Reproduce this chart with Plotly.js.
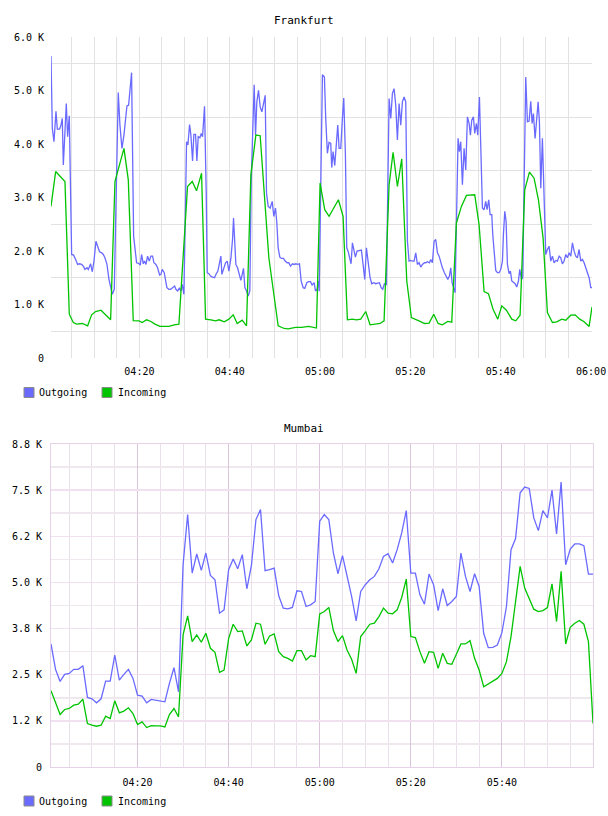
<!DOCTYPE html>
<html>
<head>
<meta charset="utf-8">
<script src="https://cdn.plot.ly/plotly-3.0.1.min.js"></script>
<style>html,body{margin:0;padding:0;background:#fff;}#chart{width:608px;height:816px;}</style>
</head>
<body>
<div id="chart"></div>
<script>
// ---- Frankfurt (minutes after 04:00, bytes) ----
const fraOutT = [0.43,0.72,1.09,1.53,1.83,2.34,2.64,2.93,3.16,3.52,3.82,4.11,4.48,5.00,5.44,5.88,6.33,6.70,7.21,7.58,7.95,8.39,8.69,9.20,9.57,9.94,10.38,10.75,11.19,11.64,12.01,12.37,12.82,13.26,13.55,14.00,14.44,14.88,15.32,15.69,16.14,16.58,16.87,17.24,17.61,17.98,18.27,18.72,19.01,19.38,19.82,20.19,20.49,20.86,21.15,21.45,21.81,22.18,22.55,22.92,23.22,23.66,24.03,24.47,24.76,25.06,25.50,25.80,26.09,26.53,26.90,27.35,27.79,28.08,28.45,28.82,29.19,29.48,29.85,30.22,30.44,30.74,31.11,31.40,31.77,32.06,32.43,32.73,33.02,33.39,33.69,33.98,34.42,34.79,35.01,35.38,35.75,36.19,36.64,37.01,37.37,37.74,38.04,38.26,38.63,39.07,39.44,39.81,40.25,40.62,40.84,41.14,41.36,41.73,42.09,42.46,42.76,43.05,43.35,43.72,44.09,44.45,44.75,45.41,45.71,46.00,46.37,46.74,47.11,47.48,47.85,48.14,48.51,48.95,49.40,49.76,50.13,50.43,50.72,51.09,51.46,51.90,52.27,52.71,53.08,53.45,53.89,54.26,54.63,55.00,55.44,55.81,56.25,56.62,57.06,57.43,57.88,58.24,58.69,58.98,59.35,59.65,59.80,60.52,60.96,61.25,61.62,61.99,62.36,62.58,62.88,63.25,63.54,63.91,64.21,64.58,64.94,65.24,65.61,65.90,66.20,66.49,66.86,67.16,67.53,67.82,68.19,68.63,69.15,69.52,69.89,70.26,70.63,71.07,71.44,71.88,72.32,72.77,73.14,73.51,73.87,74.24,74.69,75.28,75.65,76.01,76.38,76.75,77.12,77.49,77.86,78.23,78.60,78.97,79.34,79.70,80.07,80.44,80.81,81.18,81.55,81.92,82.29,82.66,83.10,83.39,83.76,84.21,84.50,84.87,85.24,85.61,85.98,86.35,86.72,87.08,87.53,87.90,88.27,88.63,88.93,89.23,89.52,89.89,90.55,90.85,91.14,91.51,91.88,92.25,92.62,92.99,93.28,93.58,93.95,94.24,94.61,94.91,95.28,95.57,95.94,96.31,96.68,96.97,97.34,97.64,98.01,98.23,98.60,98.89,99.26,99.63,100.00,100.37,100.59,100.89,101.18,101.48,101.84,102.14,102.44,102.80,103.17,103.54,103.91,104.21,104.58,104.87,105.53,105.90,106.27,106.64,106.94,107.23,107.60,107.97,108.27,108.56,108.86,109.22,109.52,109.96,110.33,110.70,111.07,111.44,111.81,112.18,112.55,112.92,113.28,113.65,114.02,114.39,114.76,115.13,115.50,115.87,116.24,116.61,116.97,117.34,117.71,118.08,118.45,118.82,119.19,119.56,119.93,120.20];
const fraOut = [5643,4291,4043,4613,4279,4279,4353,4477,3609,4415,4756,4136,4527,1935,1923,1842,1749,1761,1749,1718,1656,1687,1656,1761,1612,1811,2183,2090,1985,1966,1935,1873,1749,1470,1377,1191,1284,2927,4961,4353,3919,4167,4477,4713,4725,5159,5333,2276,2059,1780,1768,1737,1935,1761,1811,1749,1904,1811,1904,1904,1780,1749,1687,1551,1563,1656,1594,1439,1315,1284,1284,1315,1346,1284,1253,1303,1253,1377,1191,2927,4043,3981,4365,4167,3683,4179,4179,3683,4136,4117,4198,4136,4706,3113,1594,1575,1532,1513,1501,1575,1625,1780,1904,1563,1687,1780,1811,1625,1861,2214,2617,2183,1749,1687,1551,1451,1563,1675,1315,1253,1160,1253,3299,5109,4167,4787,5004,4694,4601,4787,4911,3082,2834,2803,2927,2648,2803,2524,2059,1885,1861,1861,1811,1780,1780,1718,1761,1749,1761,1749,1761,1439,1315,1303,1408,1427,1427,1365,1408,1253,1284,1439,1250,5295,5252,4477,3826,4031,4012,3559,3857,3597,3919,4353,3919,3919,4477,4861,3795,2059,1997,1904,1761,2152,1997,1885,1997,2009,2016,1749,1470,2059,1749,1501,1389,1408,1389,1408,1408,1315,1284,1389,1365,4849,4477,4942,5035,4725,4074,4756,4353,4787,4880,4787,2183,1811,1823,1811,1811,1966,1749,1780,1699,1749,1780,1780,1799,1780,1842,1780,2183,2214,1966,1904,1780,1687,1594,1532,1470,1532,1687,1408,1315,1222,4105,3857,4043,3237,3919,3516,4508,4384,4167,4446,4508,4198,4384,4167,4880,3857,2803,2772,2927,2772,2958,2679,2679,2307,1811,1637,1594,1594,1656,1811,2307,2741,2555,1749,1575,1625,1439,1408,1389,1327,1439,1656,1470,1500,5252,4415,4427,4799,4384,4570,4105,4477,4787,4415,3175,4105,3051,1935,2028,2090,1811,1904,1780,1823,1811,1904,1873,1761,1811,1935,1873,1966,1904,2152,1997,1904,1873,2028,1811,1842,1780,1687,1594,1501,1315,1315];
const fraInT = [0.43,1.46,3.52,4.48,5.37,6.11,7.36,8.54,9.42,10.31,11.49,12.74,13.63,14.59,16.58,17.54,18.64,19.90,20.63,21.59,22.55,23.44,24.54,26.53,27.71,28.75,30.66,31.70,32.65,33.76,34.65,35.83,36.86,37.67,38.78,39.81,40.77,41.65,42.76,43.72,44.68,45.78,46.74,48.66,50.72,52.05,52.94,54.56,55.88,57.51,58.69,59.20,60.00,61.03,61.99,64.06,65.09,66.05,67.16,68.04,69.00,70.11,71.07,72.32,73.28,74.17,75.28,76.16,77.12,78.08,79.19,80.22,81.18,82.14,83.10,84.13,85.17,86.13,87.08,88.27,89.15,90.18,91.29,92.40,94.24,95.20,96.31,97.27,98.30,99.34,100.22,101.25,102.44,103.32,104.28,105.31,106.35,107.38,108.34,109.37,110.33,111.44,112.40,113.51,114.39,115.50,116.46,117.49,118.45,119.56,120.20];
const fraIn = [2834,3485,3299,819,664,633,645,602,807,869,893,788,714,3299,3919,3330,700,695,664,714,683,633,590,590,621,633,3206,3299,3125,3454,726,714,695,714,677,726,807,645,707,602,3423,4167,4155,1873,602,552,546,571,571,590,571,560,3270,2772,2648,2958,2648,714,726,714,726,869,621,633,645,695,3237,3845,3206,3721,1439,757,726,683,645,652,819,645,621,683,670,2524,2834,3039,3051,2493,1241,1203,912,726,974,893,726,695,800,3144,3473,3361,2958,2245,850,664,677,726,707,800,807,726,677,590,955];

// ---- Mumbai (one sample per minute, starting 04:01) ----
const mumStartMin = 1;
const mumOut = [3333,2645,2319,2509,2536,2645,2645,2745,1884,1848,1739,1848,2328,2328,3034,2355,2509,2645,2400,1947,1920,1739,1830,1812,1784,1766,2265,2690,2038,5480,6839,5254,5770,5326,5797,5190,5072,4167,4257,5344,5634,5371,5752,4828,5453,6703,6975,5317,5344,5390,4638,4303,4284,4321,4774,4755,4348,4393,4484,6658,
6839,6703,5797,5236,5725,5163,4620,3958,4755,4937,5072,5163,5371,5707,5779,5525,5888,6341,6948,5254,5254,4665,4411,5226,4937,4239,4828,4375,4484,4620,5797,5163,4755,5236,4891,3623,3234,3243,3306,3641,4348,5888,6187,7428,7582,7545,6748,6404,6948,6748,7500,6313,7717,5480,5906,6042,6042,5997,5226,5226];
const mumIn = [2065,1721,1422,1558,1585,1676,1703,1839,1178,1132,1105,1132,1377,1313,1793,1467,1513,1603,1449,1150,1223,1069,1123,1114,1114,1087,1422,1585,1359,3578,4094,3397,3578,3379,3623,3216,3107,2563,2627,3478,3868,3668,3687,3279,3442,3895,3868,3324,3551,3605,3125,2989,2944,2871,3152,3152,2899,3016,2989,4149,
4212,4321,3696,3397,3560,3170,2917,2536,3533,3696,3868,3895,4076,4303,4167,4149,4257,4592,5091,3533,3505,3125,2808,3125,3107,2672,3080,2808,2781,3052,3333,3333,3424,2944,2627,2174,2246,2337,2400,2536,2853,3533,4438,5435,4846,4574,4275,4212,4239,4321,4964,3940,5299,3333,3786,3895,3967,3868,3397,1178];

// ---- tick labels ----
const fraXTickVals = [20,40,60,80,100,120];
const fraXTickText = ['04:20','04:40','05:00','05:20','05:40','06:00'];
const fraYTickVals = [0,1000,2000,3000,4000,5000,6000];
const fraYTickText = ['0','1.0 K','2.0 K','3.0 K','4.0 K','5.0 K','6.0 K'];
const mumXTickVals = [20,40,60,80,100];
const mumXTickText = ['04:20','04:40','05:00','05:20','05:40'];
const mumYTickVals = [0,1250,2500,3750,5000,6250,7500,8750];
const mumYTickText = ['0','1.2 K','2.5 K','3.8 K','5.0 K','6.2 K','7.5 K','8.8 K'];
const seriesNames = ['Outgoing','Incoming'];
const titles = ['Frankfurt','Mumbai'];

const mumT = mumOut.map((_, i) => mumStartMin + i);
const fiveMin = []; for (let m = 5; m < 120; m += 5) fiveMin.push(m);
const fraHalf = []; for (let v = 500; v < 6000; v += 1000) fraHalf.push(v);
const mumHalf = []; for (let v = 625; v < 8750; v += 1250) mumHalf.push(v);

const BLUE = '#6a6aff', GREEN = '#00c400';
const W = 608, H = 816;
const px = x => x / W, py = y => (H - y) / H;
const font = {family: 'DejaVu Sans Mono, monospace', size: 10, color: '#000'};

const traces = [
  {x: fraOutT, y: fraOut, xaxis: 'x', yaxis: 'y', mode: 'lines', line: {color: BLUE, width: 1.3}, name: seriesNames[0]},
  {x: fraInT, y: fraIn, xaxis: 'x', yaxis: 'y', mode: 'lines', line: {color: GREEN, width: 1.3}, name: seriesNames[1]},
  {x: mumT, y: mumOut, xaxis: 'x2', yaxis: 'y2', mode: 'lines', line: {color: BLUE, width: 1.3}, name: seriesNames[0]},
  {x: mumT, y: mumIn, xaxis: 'x2', yaxis: 'y2', mode: 'lines', line: {color: GREEN, width: 1.3}, name: seriesNames[1]}
];

const topGrid = '#e2e2e2';
const layout = {
  width: W, height: H,
  margin: {l: 0, r: 0, t: 0, b: 0},
  paper_bgcolor: '#fff', plot_bgcolor: '#fff',
  showlegend: false, hovermode: false,
  font: font,
  xaxis: {
    domain: [px(51), px(592)], range: [0.43, 120.2], anchor: 'y',
    tickmode: 'array', tickvals: fraXTickVals, ticktext: fraXTickText,
    showgrid: true, gridcolor: topGrid, gridwidth: 1, zeroline: false, showline: false, ticks: '',
    ticklabelstandoff: 6,
    minor: {tickmode: 'array', tickvals: fiveMin, showgrid: true, gridcolor: topGrid, gridwidth: 1, ticks: ''},
    tickfont: font, fixedrange: true
  },
  yaxis: {
    domain: [py(358), py(37)], range: [0, 6000], anchor: 'x',
    tickmode: 'array', tickvals: fraYTickVals, ticktext: fraYTickText,
    showgrid: false, zeroline: false, showline: false, ticks: '',
    ticklabelstandoff: 6,
    minor: {tickmode: 'array', tickvals: fraHalf, showgrid: true, gridcolor: topGrid, gridwidth: 1, ticks: ''},
    tickfont: font, fixedrange: true
  },
  xaxis2: {
    domain: [px(51), px(593)], range: [1, 120], anchor: 'y2',
    tickmode: 'array', tickvals: mumXTickVals, ticktext: mumXTickText,
    showgrid: true, gridcolor: '#dcc6dc', gridwidth: 1, zeroline: false,
    showline: true, mirror: true, linecolor: '#e6d2e6', linewidth: 1, ticks: '',
    ticklabelstandoff: 6,
    minor: {tickmode: 'array', tickvals: fiveMin, showgrid: true, gridcolor: '#e9e0e9', gridwidth: 1, ticks: ''},
    tickfont: font, fixedrange: true
  },
  yaxis2: {
    domain: [py(767), py(444)], range: [0, 8750], anchor: 'x2',
    tickmode: 'array', tickvals: mumYTickVals, ticktext: mumYTickText,
    showgrid: true, gridcolor: '#f0e0f0', gridwidth: 1.5, zeroline: false,
    showline: true, mirror: true, linecolor: '#e6d2e6', linewidth: 1, ticks: '',
    ticklabelstandoff: 6,
    minor: {tickmode: 'array', tickvals: mumHalf, showgrid: true, gridcolor: '#efe9ef', gridwidth: 1.5, ticks: ''},
    tickfont: font, fixedrange: true
  },
  annotations: [
    {text: titles[0], xref: 'paper', yref: 'paper', x: 0.5, y: py(20), xanchor: 'center', yanchor: 'middle', showarrow: false, font: {family: font.family, size: 11, color: '#000'}},
    {text: titles[1], xref: 'paper', yref: 'paper', x: 0.5, y: py(428), xanchor: 'center', yanchor: 'middle', showarrow: false, font: {family: font.family, size: 11, color: '#000'}},
    {text: seriesNames[0], xref: 'paper', yref: 'paper', x: px(37), y: py(392.5), xanchor: 'left', yanchor: 'middle', showarrow: false, font: font},
    {text: seriesNames[1], xref: 'paper', yref: 'paper', x: px(116), y: py(392.5), xanchor: 'left', yanchor: 'middle', showarrow: false, font: font},
    {text: seriesNames[0], xref: 'paper', yref: 'paper', x: px(37), y: py(801), xanchor: 'left', yanchor: 'middle', showarrow: false, font: font},
    {text: seriesNames[1], xref: 'paper', yref: 'paper', x: px(116), y: py(801), xanchor: 'left', yanchor: 'middle', showarrow: false, font: font}
  ],
  shapes: [
    {type: 'rect', xref: 'paper', yref: 'paper', x0: px(24), x1: px(34), y0: py(397.5), y1: py(387.5), fillcolor: BLUE, line: {color: '#8a8a8a', width: 1}},
    {type: 'rect', xref: 'paper', yref: 'paper', x0: px(102), x1: px(112), y0: py(397.5), y1: py(387.5), fillcolor: GREEN, line: {color: '#8a8a8a', width: 1}},
    {type: 'rect', xref: 'paper', yref: 'paper', x0: px(24), x1: px(34), y0: py(806), y1: py(796), fillcolor: BLUE, line: {color: '#8a8a8a', width: 1}},
    {type: 'rect', xref: 'paper', yref: 'paper', x0: px(102), x1: px(112), y0: py(806), y1: py(796), fillcolor: GREEN, line: {color: '#8a8a8a', width: 1}}
  ]
};

Plotly.newPlot('chart', traces, layout, {staticPlot: true, displayModeBar: false});
</script>
</body>
</html>
